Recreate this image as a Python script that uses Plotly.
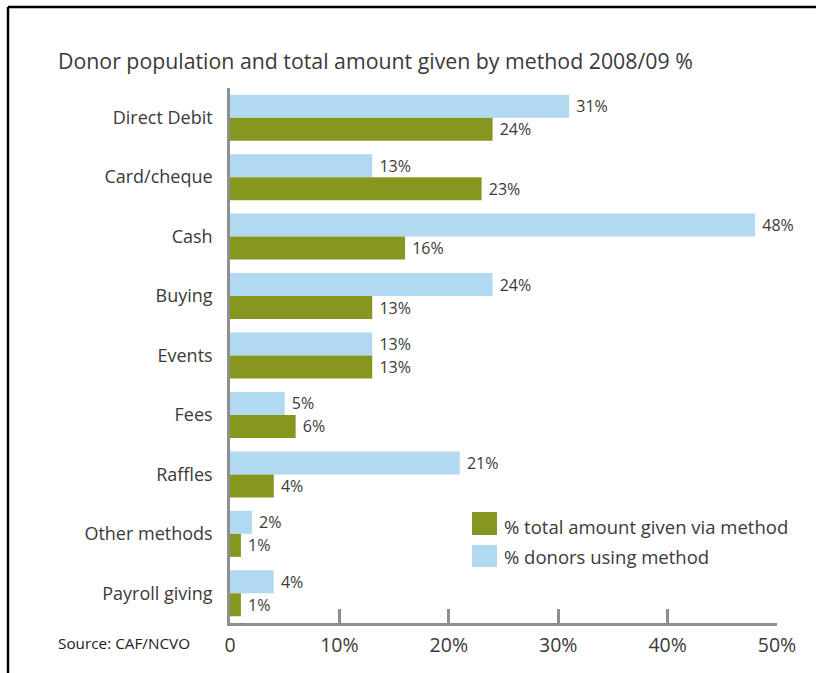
import plotly.graph_objects as go

# Giving methods and the two measures (%), 2008/09
methods = ["Direct Debit", "Card/cheque", "Cash", "Buying", "Events", "Fees",
           "Raffles", "Other methods", "Payroll giving"]
donors_pct = [31, 13, 48, 24, 13, 5, 21, 2, 4]
amount_pct = [24, 23, 16, 13, 13, 6, 4, 1, 1]

x_ticks = [0, 10, 20, 30, 40, 50]
x_tick_labels = ["0", "10%", "20%", "30%", "40%", "50%"]

BLUE = "#b1d9f2"
GREEN = "#87961f"
TEXT = "#3a3a3a"
AXIS = "#8f8f8f"
FONT = "Open Sans"

W, H = 816, 673
L, R, T, B = 230, 39, 88, 50
PW, PH = W - L - R, H - T - B


def px(x):
    return (x - L) / PW


def py(y):
    return (H - B - y) / PH


fig = go.Figure()
fig.add_trace(go.Bar(
    y=methods, x=donors_pct, orientation="h", name="% donors using method",
    marker=dict(color=BLUE, line=dict(width=0)),
    text=[f" {v}%" for v in donors_pct], textposition="outside",
    textfont=dict(family=FONT, size=16, color=TEXT), cliponaxis=False,
))
fig.add_trace(go.Bar(
    y=methods, x=amount_pct, orientation="h", name="% total amount given via method",
    marker=dict(color=GREEN, line=dict(width=0)),
    text=[f" {v}%" for v in amount_pct], textposition="outside",
    textfont=dict(family=FONT, size=16, color=TEXT), cliponaxis=False,
))

shapes = [
    # frame lines (top and left)
    dict(type="line", xref="paper", yref="paper", x0=px(8), x1=px(W + 2),
         y0=py(7), y1=py(7), line=dict(color="black", width=2.5)),
    dict(type="line", xref="paper", yref="paper", x0=px(8), x1=px(8),
         y0=py(7), y1=py(H + 2), line=dict(color="black", width=2.5)),
    # legend swatches
    dict(type="rect", xref="paper", yref="paper", x0=px(472), x1=px(497),
         y0=py(535), y1=py(512), fillcolor=GREEN, line=dict(width=0)),
    dict(type="rect", xref="paper", yref="paper", x0=px(472), x1=px(497),
         y0=py(567), y1=py(545), fillcolor=BLUE, line=dict(width=0)),
]

annotations = [
    dict(text="Donor population and total amount given by method 2008/09 %",
         xref="paper", yref="paper", x=px(56), y=py(60), xanchor="left",
         yanchor="middle", showarrow=False,
         font=dict(family=FONT, size=21.3, color=TEXT)),
    dict(text="Source: CAF/NCVO", xref="paper", yref="paper", x=px(56), y=py(643),
         xanchor="left", yanchor="middle", showarrow=False,
         font=dict(family=FONT, size=15.3, color="#222222")),
    dict(text="% total amount given via method", xref="paper", yref="paper",
         x=px(502), y=py(526), xanchor="left", yanchor="middle", showarrow=False,
         font=dict(family=FONT, size=18.5, color=TEXT)),
    dict(text="% donors using method", xref="paper", yref="paper",
         x=px(502), y=py(556), xanchor="left", yanchor="middle", showarrow=False,
         font=dict(family=FONT, size=18.5, color=TEXT)),
]

fig.update_layout(
    width=W, height=H,
    margin=dict(l=L, r=R, t=T, b=B, pad=0),
    paper_bgcolor="white", plot_bgcolor="white",
    barmode="group", bargap=0.226, bargroupgap=0,
    showlegend=False,
    shapes=shapes, annotations=annotations,
    font=dict(family=FONT, color=TEXT),
    xaxis=dict(
        range=[0, 50], tickvals=x_ticks, ticktext=x_tick_labels,
        showgrid=False, zeroline=False,
        showline=True, linecolor=AXIS, linewidth=2.5,
        ticks="inside", ticklen=14, tickwidth=2.5, tickcolor=AXIS,
        tickfont=dict(family=FONT, size=19.5, color=TEXT),
        ticklabelstandoff=3,
    ),
    yaxis=dict(
        autorange="reversed", showgrid=False, zeroline=False,
        showline=True, linecolor=AXIS, linewidth=2.5,
        ticks="", tickfont=dict(family=FONT, size=18, color=TEXT),
        ticklabelstandoff=11,
    ),
)

fig.write_html("out.html")
